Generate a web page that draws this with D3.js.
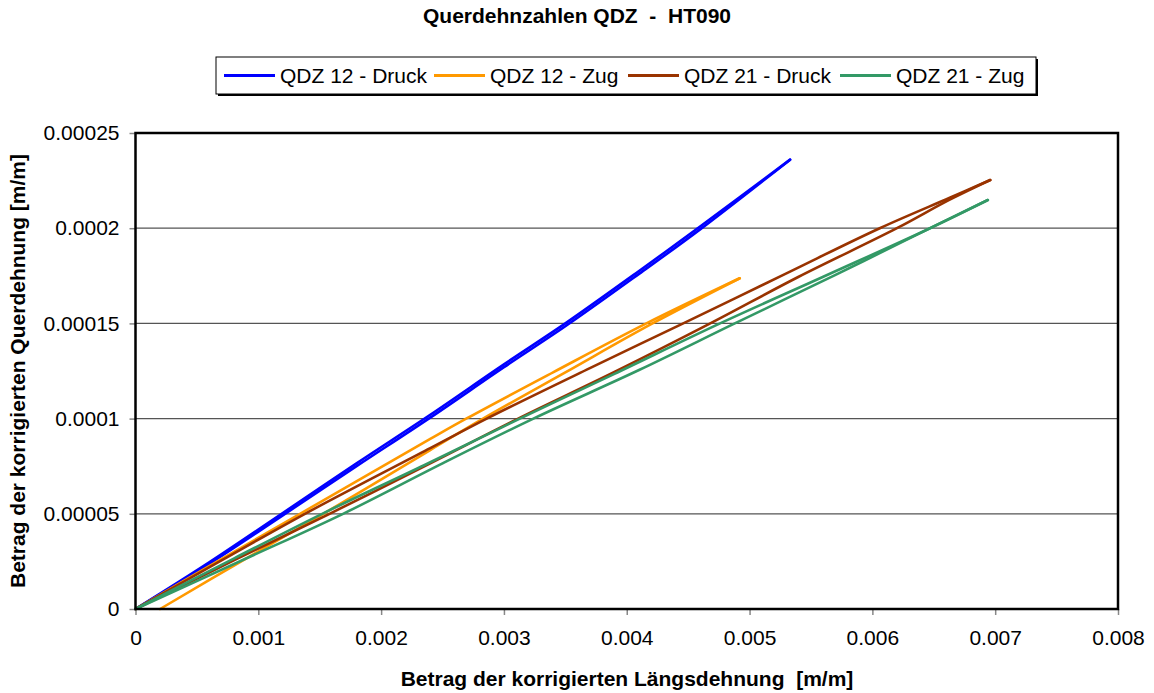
<!DOCTYPE html>
<html>
<head>
<meta charset="utf-8">
<script src="https://cdn.jsdelivr.net/npm/d3@7"></script>
<style>
  body { margin: 0; background: #fff; }
  svg { font-family: "Liberation Sans", Arial, sans-serif; }
</style>
</head>
<body>
<svg id="chart" width="1154" height="693"></svg>
<script>
// each series is a hysteresis loop: load branch + unload branch, [strain, lateral strain]
const seriesNames = ["QDZ 12 - Druck", "QDZ 12 - Zug", "QDZ 21 - Druck", "QDZ 21 - Zug"];
const seriesColors = ["#0000ff", "#ff9900", "#993300", "#339966"];

const qdz12DruckLoad = [[0,0],[0.0006,0.0000245],[0.00119,0.00005],[0.0018,0.0000765],[0.0024,0.000102],[0.003,0.0001285],[0.0035,0.00015],[0.0041,0.0001775],[0.0046,0.000201],[0.00533,0.000236]];
const qdz12DruckUnload = [[0.00533,0.000236],[0.0046,0.0001995],[0.0041,0.000176],[0.0035,0.0001485],[0.003,0.000127],[0.0024,0.0001005],[0.0018,0.000075],[0.00119,0.0000488],[0.0006,0.0000237],[0,0]];

const qdz12ZugLoad = [[0,0],[0.0006,0.0000225],[0.00134,0.00005],[0.0024,0.0000893],[0.0027,0.0001002],[0.0034,0.0001243],[0.00416,0.00015],[0.00492,0.0001737]];
const qdz12ZugUnload = [[0.00492,0.0001737],[0.00421,0.00015],[0.0035,0.0001243],[0.00283,0.0001],[0.0024,0.0000835],[0.00153,0.00005],[0.0009,0.0000265],[0.0002,0]];

const qdz21DruckLoad = [[0,0],[0.0007,0.0000255],[0.00138,0.00005],[0.0024,0.0000845],[0.00286,0.0001],[0.0037,0.0001265],[0.00446,0.00015],[0.0053,0.0001763],[0.00606,0.0002],[0.00663,0.000216],[0.00696,0.0002253]];
const qdz21DruckUnload = [[0.00696,0.0002253],[0.00663,0.000215],[0.0062,0.0002],[0.0054,0.0001745],[0.00468,0.00015],[0.0039,0.0001245],[0.0031,0.0000995],[0.0024,0.0000765],[0.00158,0.00005],[0.0008,0.0000255],[0,0]];

const qdz21ZugLoad = [[0,0],[0.0008,0.0000265],[0.00152,0.00005],[0.00235,0.0000755],[0.00313,0.0001],[0.0039,0.0001235],[0.00476,0.00015],[0.0056,0.0001745],[0.00647,0.0002],[0.00694,0.0002148]];
const qdz21ZugUnload = [[0.00694,0.0002148],[0.00647,0.0002],[0.0057,0.0001755],[0.00488,0.00015],[0.0041,0.0001255],[0.00324,0.0001],[0.0025,0.0000765],[0.00169,0.00005],[0.0009,0.0000265],[0,0]];

const xTicks = [0, 0.001, 0.002, 0.003, 0.004, 0.005, 0.006, 0.007, 0.008];
const xTickLabels = ["0", "0.001", "0.002", "0.003", "0.004", "0.005", "0.006", "0.007", "0.008"];
const yTicks = [0, 0.00005, 0.0001, 0.00015, 0.0002, 0.00025];
const yTickLabels = ["0", "0.00005", "0.0001", "0.00015", "0.0002", "0.00025"];

const series = [
  [qdz12DruckLoad, qdz12DruckUnload],
  [qdz12ZugLoad, qdz12ZugUnload],
  [qdz21DruckLoad, qdz21DruckUnload],
  [qdz21ZugLoad, qdz21ZugUnload]
];

const svg = d3.select("#chart");
const plot = { left: 135.5, right: 1118, top: 133, bottom: 609 };

const x = d3.scaleLinear().domain([0, 0.008]).range([plot.left, plot.right]);
const y = d3.scaleLinear().domain([0, 0.00025]).range([plot.bottom, plot.top]);

// title
svg.append("text")
  .attr("x", 577).attr("y", 23)
  .attr("text-anchor", "middle")
  .attr("font-size", 21).attr("font-weight", "bold")
  .style("white-space", "pre")
  .text("Querdehnzahlen QDZ  -  HT090");

// gridlines
svg.append("g")
  .selectAll("line")
  .data(yTicks.slice(1))
  .join("line")
  .attr("x1", plot.left).attr("x2", plot.right)
  .attr("y1", d => y(d)).attr("y2", d => y(d))
  .attr("stroke", "#555").attr("stroke-width", 1.2);

// axes
const xAxis = d3.axisBottom(x).tickValues(xTicks)
  .tickFormat((d, i) => xTickLabels[i]).tickSize(6).tickPadding(10);
const gx = svg.append("g").attr("transform", `translate(0,${plot.bottom})`).call(xAxis);
const yAxis = d3.axisLeft(y).tickValues(yTicks)
  .tickFormat((d, i) => yTickLabels[i]).tickSize(6).tickPadding(10);
const gy = svg.append("g").attr("transform", `translate(${plot.left},0)`).call(yAxis);

[gx, gy].forEach(g => {
  g.select(".domain").remove();
  g.selectAll(".tick line").attr("stroke", "#888").attr("stroke-width", 1.5);
  g.selectAll(".tick text").attr("font-size", 21).attr("fill", "#000")
    .attr("font-family", "'Liberation Sans', Arial, sans-serif");
});
gx.selectAll(".tick text").attr("dy", "0.93em");

// series
const line = d3.line().x(d => x(d[0])).y(d => y(d[1])).curve(d3.curveCatmullRom.alpha(0.5));
const gs = svg.append("g");
series.forEach((branches, i) => {
  gs.selectAll(null)
    .data(branches)
    .join("path")
    .attr("d", line)
    .attr("fill", "none")
    .attr("stroke", seriesColors[i])
    .attr("stroke-width", 2.6)
    .attr("stroke-linejoin", "round")
    .attr("stroke-linecap", "round");
});

// plot border
svg.append("rect")
  .attr("x", plot.left).attr("y", plot.top)
  .attr("width", plot.right - plot.left).attr("height", plot.bottom - plot.top)
  .attr("fill", "none").attr("stroke", "#000").attr("stroke-width", 2.5);

// axis titles
svg.append("text")
  .attr("x", 627).attr("y", 686)
  .attr("text-anchor", "middle")
  .attr("font-size", 21).attr("font-weight", "bold")
  .style("white-space", "pre")
  .text("Betrag der korrigierten Längsdehnung  [m/m]");

svg.append("text")
  .attr("transform", `translate(25,${(plot.top + plot.bottom) / 2}) rotate(-90)`)
  .attr("text-anchor", "middle")
  .attr("font-size", 21).attr("font-weight", "bold")
  .text("Betrag der korrigierten Querdehnung [m/m]");

// legend
const legend = svg.append("g");
legend.append("rect")
  .attr("x", 218).attr("y", 59).attr("width", 820).attr("height", 37)
  .attr("fill", "#000");
legend.append("rect")
  .attr("x", 216).attr("y", 57).attr("width", 820).attr("height", 37)
  .attr("fill", "#fff").attr("stroke", "#000").attr("stroke-width", 1);

const legendX = [224, 434, 628, 840];
seriesNames.forEach((name, i) => {
  legend.append("line")
    .attr("x1", legendX[i]).attr("x2", legendX[i] + 51)
    .attr("y1", 75.5).attr("y2", 75.5)
    .attr("stroke", seriesColors[i]).attr("stroke-width", 3);
  legend.append("text")
    .attr("x", legendX[i] + 56).attr("y", 82.5)
    .attr("font-size", 21)
    .text(name);
});
</script>
</body>
</html>
